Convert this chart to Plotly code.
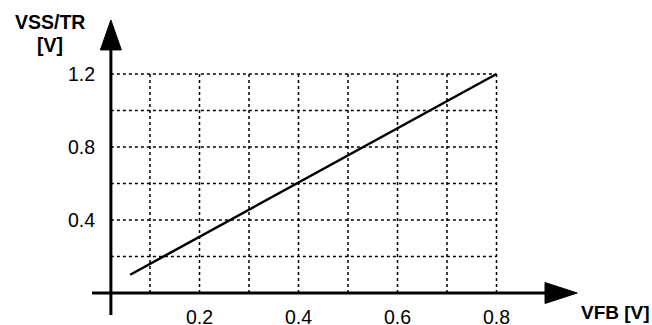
import plotly.graph_objects as go

# grid positions
x_grid = [0.1, 0.2, 0.3, 0.4, 0.5, 0.6, 0.7, 0.8]
y_grid = [0.2, 0.4, 0.6, 0.8, 1.0, 1.2]

# tick labels
x_ticks = [0.2, 0.4, 0.6, 0.8]
x_tick_text = ["0.2", "0.4", "0.6", "0.8"]
y_ticks = [0.4, 0.8, 1.2]
y_tick_text = ["0.4", "0.8", "1.2"]

# data line
vfb = [0.06, 0.8]
vss_tr = [0.1, 1.2]

y_axis_x = 0.021
x_min_grid = y_axis_x
font = "Liberation Sans, Arial, sans-serif"

fig = go.Figure()

# dotted grid
for gx in x_grid:
    fig.add_trace(go.Scatter(x=[gx, gx], y=[0, max(y_grid)], mode="lines",
                             line=dict(color="black", width=1.5, dash="dot"),
                             hoverinfo="skip", showlegend=False))
for gy in y_grid:
    fig.add_trace(go.Scatter(x=[x_min_grid, max(x_grid)], y=[gy, gy], mode="lines",
                             line=dict(color="black", width=1.5, dash="dot"),
                             hoverinfo="skip", showlegend=False))

# axes lines
fig.add_trace(go.Scatter(x=[y_axis_x, y_axis_x], y=[-0.12, 1.34], mode="lines",
                         line=dict(color="black", width=3), hoverinfo="skip", showlegend=False))
fig.add_trace(go.Scatter(x=[-0.017, 0.9], y=[0, 0], mode="lines",
                         line=dict(color="black", width=3), hoverinfo="skip", showlegend=False))

# arrowheads
fig.add_trace(go.Scatter(x=[y_axis_x - 0.0212, y_axis_x, y_axis_x + 0.0212, y_axis_x - 0.0212],
                         y=[1.332, 1.496, 1.332, 1.332], mode="lines", fill="toself",
                         fillcolor="black", line=dict(color="black", width=1),
                         hoverinfo="skip", showlegend=False))
fig.add_trace(go.Scatter(x=[0.898, 0.963, 0.898, 0.898],
                         y=[0.0575, 0, -0.0575, 0.0575], mode="lines", fill="toself",
                         fillcolor="black", line=dict(color="black", width=1),
                         hoverinfo="skip", showlegend=False))

# characteristic line
fig.add_trace(go.Scatter(x=vfb, y=vss_tr, mode="lines",
                         line=dict(color="black", width=2.5), showlegend=False))

annotations = []
for v, t in zip(x_ticks, x_tick_text):
    annotations.append(dict(x=v, y=-0.132, text=t, showarrow=False,
                            font=dict(family=font, size=19.5, color="black"),
                            xanchor="center", yanchor="middle"))
for v, t in zip(y_ticks, y_tick_text):
    annotations.append(dict(x=-0.007, y=v, text=t, showarrow=False,
                            font=dict(family=font, size=19.5, color="black"),
                            xanchor="right", yanchor="middle"))
annotations.append(dict(x=-0.102, y=1.485, text="<b>VSS/TR</b>", showarrow=False,
                        font=dict(family=font, size=19.5, color="black"),
                        xanchor="center", yanchor="middle"))
annotations.append(dict(x=-0.102, y=1.359, text="<b>[V]</b>", showarrow=False,
                        font=dict(family=font, size=19.5, color="black"),
                        xanchor="center", yanchor="middle"))
annotations.append(dict(x=1.04, y=-0.108, text="<b>VFB [V]</b>", showarrow=False,
                        font=dict(family=font, size=19, color="black"),
                        xanchor="center", yanchor="middle"))

fig.update_layout(
    width=652, height=325,
    margin=dict(l=0, r=0, t=0, b=0),
    paper_bgcolor="white", plot_bgcolor="white",
    xaxis=dict(range=[-0.2030, 1.1141], visible=False, fixedrange=True),
    yaxis=dict(range=[-0.1753, 1.6055], visible=False, fixedrange=True),
    annotations=annotations,
)

fig.write_html("out.html", post_script="document.body.style.margin='0';",
               config={"displayModeBar": False})
